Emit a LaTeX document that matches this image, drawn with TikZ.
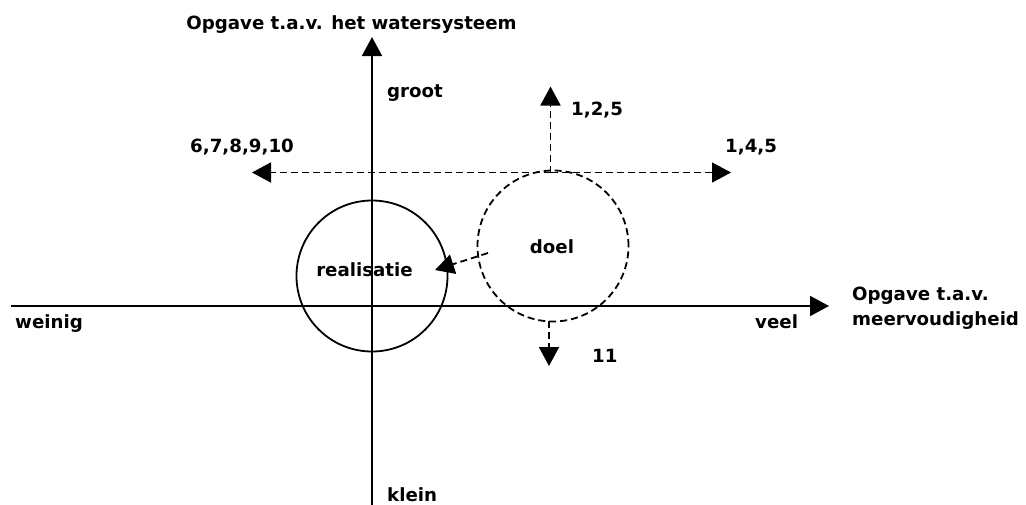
\documentclass[tikz,border=0pt]{standalone}
\usepackage{fontspec}
\setmainfont{DejaVu Sans}
\usetikzlibrary{arrows.meta}
\begin{document}
\begin{tikzpicture}[x=1pt,y=-1pt,
  ln/.style={line width=1.9pt},
  tip/.style={-{Triangle[length=19pt,width=20pt]}},
  dsh/.style={line width=1.8pt,dash pattern=on 7pt off 4pt},
  lbl/.style={font=\bfseries\fontsize{18.2}{22}\selectfont,inner sep=0pt},
  circ/.style={circle,minimum size=151pt,inner sep=0pt,line width=1.8pt}]
\useasboundingbox (0,0) rectangle (1026,504);
% axes
\coordinate (vb) at (372,505);
\coordinate (vt) at (372,37);
\coordinate (hl) at (10.5,306);
\coordinate (hr) at (829,306);
\draw[ln,tip] (vb) -- (vt);
\draw[ln,tip] (hl) -- (hr);
% circles
\node[circ,draw] (real) at (372,276) {};
\node[circ,draw,dash pattern=on 7pt off 4pt] (doel) at (553,246) {};
\node[lbl,anchor=base] (realt) at (364.5,276.7) {realisatie};
\node[lbl,anchor=base] (doelt) at (552,253) {doel};
% dashed arrows
\coordinate (top) at (550.5,172.5);
\coordinate (ll) at (252,172.5);
\coordinate (rr) at (731,172.5);
\coordinate (up) at (550.5,86.5);
\coordinate (bot) at (549,321);
\coordinate (dn) at (549,366);
\draw[dsh,tip] (top) -- (ll);
\draw[dsh,tip] (top) -- (rr);
\draw[dsh,tip] (top) -- (up);
\draw[dsh,tip] (bot) -- (dn);
\coordinate (from) at (488,253);
\coordinate (to) at (435,270);
\draw[dsh,tip] (from) -- (to);
% labels
\node[lbl,anchor=base] (t1) at (351.5,29) {Opgave t.a.v. het watersysteem};
\node[lbl,anchor=base west] (groot) at (387,97) {groot};
\node[lbl,anchor=base west] (l1) at (571,115) {1,2,5};
\node[lbl,anchor=base west] (l2) at (190,152.5) {6,7,8,9,10};
\node[lbl,anchor=base west] (l3) at (725,152) {1,4,5};
\node[lbl,anchor=base west] (l4) at (592,362) {11};
\node[lbl,anchor=base west] (weinig) at (15,328) {weinig};
\node[lbl,anchor=base west] (veel) at (755,328) {veel};
\node[lbl,anchor=base west] (t2a) at (852,300) {Opgave t.a.v.};
\node[lbl,anchor=base west] (t2b) at (852,325) {meervoudigheid};
\node[lbl,anchor=base west] (klein) at (387,501) {klein};
\end{tikzpicture}
\end{document}
